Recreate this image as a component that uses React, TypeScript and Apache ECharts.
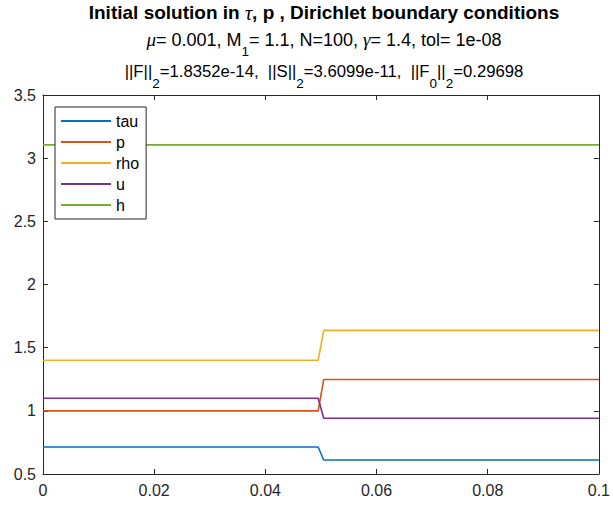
import React, { useEffect, useRef } from 'react';
import * as echarts from 'echarts';

const xPoints = [0, 0.0495, 0.0505, 0.1];
const tauValues = [0.714, 0.714, 0.611, 0.611];
const pValues = [1.0, 1.0, 1.248, 1.248];
const rhoValues = [1.4, 1.4, 1.637, 1.637];
const uValues = [1.1, 1.1, 0.941, 0.941];
const hValues = [3.105, 3.105, 3.105, 3.105];
const seriesNames = ['tau', 'p', 'rho', 'u', 'h'];
const seriesValues = [tauValues, pValues, rhoValues, uValues, hValues];
const seriesColors = ['#0072BD', '#D95319', '#EDB120', '#7E2F8E', '#77AC30'];

const FONT = '"Liberation Sans", Arial, Helvetica, sans-serif';
const AXIS_COLOR = '#262626';

export default function App() {
  const ref = useRef<HTMLDivElement>(null);
  useEffect(() => {
    if (!ref.current) return;
    const chart = echarts.init(ref.current, null, { renderer: 'svg' });
    const fmt = (v: number) => String(parseFloat(v.toFixed(4)));
    const axisLine = { show: true, onZero: false, lineStyle: { color: AXIS_COLOR, width: 1 } };
    const tick = { show: true, inside: true, length: 5, lineStyle: { color: AXIS_COLOR, width: 1 } };
    const labelStyle = { fontFamily: FONT, fontSize: 16, color: AXIS_COLOR };
    const makeRich = (size: number, subSize: number) => ({
      n: { fontFamily: FONT, fontSize: size, lineHeight: 38, color: '#000' },
      b: { fontFamily: FONT, fontSize: size, lineHeight: 38, fontWeight: 'bold', color: '#000' },
      i: { fontFamily: '"Liberation Serif", serif', fontStyle: 'italic', fontSize: size + 1, lineHeight: 38, color: '#000' },
      s: { fontFamily: FONT, fontSize: subSize, lineHeight: 14, verticalAlign: 'bottom', color: '#000' },
    });
    const cx = 324;
    chart.setOption({
      animation: false,
      backgroundColor: '#fff',
      grid: { left: 43, right: 10, top: 95, bottom: 34, containLabel: false },
      xAxis: [
        {
          type: 'value', min: 0, max: 0.1, interval: 0.02, position: 'bottom',
          axisLine, axisTick: tick, splitLine: { show: false },
          axisLabel: { ...labelStyle, margin: 8, formatter: fmt },
        },
        {
          type: 'value', min: 0, max: 0.1, interval: 0.02, position: 'top',
          axisLine, axisTick: tick, splitLine: { show: false }, axisLabel: { show: false },
        },
      ],
      yAxis: [
        {
          type: 'value', min: 0.5, max: 3.5, interval: 0.5, position: 'left',
          axisLine, axisTick: tick, splitLine: { show: false },
          axisLabel: { ...labelStyle, margin: 7, formatter: fmt },
        },
        {
          type: 'value', min: 0.5, max: 3.5, interval: 0.5, position: 'right',
          axisLine, axisTick: tick, splitLine: { show: false }, axisLabel: { show: false },
        },
      ],
      legend: {
        orient: 'vertical', left: 55, top: 107,
        data: seriesNames,
        itemWidth: 50, itemHeight: 14, itemGap: 5,
        padding: [6, 7, 6, 5],
        backgroundColor: '#fff', borderColor: AXIS_COLOR, borderWidth: 1,
        itemStyle: { opacity: 0 },
        textStyle: { fontFamily: FONT, fontSize: 16, color: '#000' },
      },
      series: seriesNames.map((name, k) => ({
        name, type: 'line', symbol: 'none', showSymbol: false,
        data: xPoints.map((x, j) => [x, seriesValues[k][j]]),
        lineStyle: { color: seriesColors[k], width: 1.6 },
        itemStyle: { color: seriesColors[k] },
      })),
      graphic: [
        {
          type: 'text', x: cx, y: 12.5,
          style: { text: '{b|Initial solution in }{i|τ}{b|, p , Dirichlet boundary conditions}', rich: makeRich(19, 14), align: 'center', verticalAlign: 'middle' },
        },
        {
          type: 'text', x: cx, y: 39.5,
          style: { text: '{i|μ}{n|= 0.001, M}{s|1}{n|= 1.1, N=100, }{i|γ}{n|= 1.4, tol= 1e-08}', rich: makeRich(18, 13.5), align: 'center', verticalAlign: 'middle' },
        },
        {
          type: 'text', x: cx, y: 71,
          style: { text: '{n|||F||}{s|2}{n|=1.8352e-14,  ||S||}{s|2}{n|=3.6099e-11,  ||F}{s|0}{n|||}{s|2}{n|=0.29698}', rich: makeRich(16.7, 13.5), align: 'center', verticalAlign: 'middle' },
        },
      ],
    });
    return () => chart.dispose();
  }, []);
  return <div ref={ref} style={{ position: 'fixed', left: 0, top: 0, width: 613, height: 508 }} />;
}
